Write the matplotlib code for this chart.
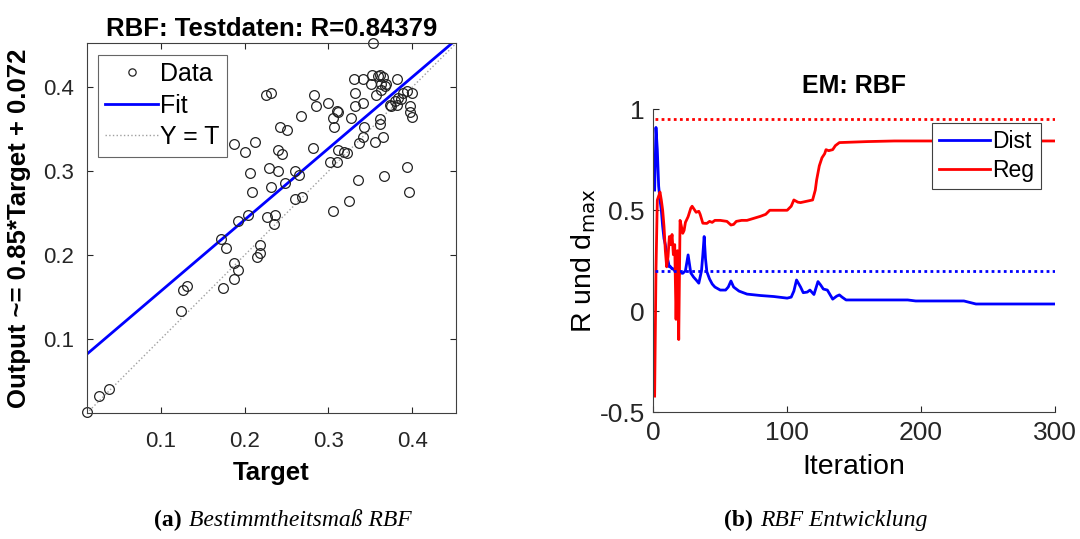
import matplotlib
matplotlib.use("Agg")
import matplotlib.pyplot as plt
import numpy as np

plt.rcParams["font.family"] = ["Liberation Sans", "DejaVu Sans"]
plt.rcParams["axes.unicode_minus"] = False

# ---- regression test data (target, network output) ----
target = [0.353, 0.226, 0.231, 0.330, 0.341, 0.352, 0.359, 0.365, 0.361, 0.351,
          0.369, 0.382, 0.283, 0.285, 0.300, 0.310, 0.311, 0.305, 0.306, 0.332,
          0.332, 0.341, 0.357, 0.363, 0.367, 0.267, 0.242, 0.250, 0.187, 0.201,
          0.212, 0.240, 0.245, 0.281, 0.206, 0.209, 0.229, 0.240, 0.231, 0.248,
          0.260, 0.265, 0.260, 0.268, 0.302, 0.310, 0.311, 0.318, 0.322, 0.327,
          0.336, 0.341, 0.342, 0.335, 0.324, 0.305, 0.361, 0.366, 0.393, 0.396,
          0.375, 0.379, 0.383, 0.389, 0.393, 0.399, 0.397, 0.397, 0.399, 0.382,
          0.373, 0.386, 0.192, 0.204, 0.227, 0.236, 0.235, 0.172, 0.178, 0.188,
          0.192, 0.187, 0.174, 0.218, 0.219, 0.215, 0.127, 0.132, 0.124, 0.039,
          0.027, 0.012, 0.361, 0.365, 0.356, 0.363]
output = [0.452, 0.390, 0.393, 0.410, 0.410, 0.414, 0.413, 0.412, 0.414, 0.404,
          0.403, 0.410, 0.391, 0.378, 0.381, 0.371, 0.370, 0.363, 0.352, 0.393,
          0.378, 0.381, 0.391, 0.396, 0.401, 0.366, 0.352, 0.349, 0.332, 0.323,
          0.335, 0.325, 0.320, 0.327, 0.298, 0.275, 0.304, 0.300, 0.281, 0.286,
          0.300, 0.295, 0.267, 0.269, 0.311, 0.311, 0.325, 0.323, 0.321, 0.363,
          0.334, 0.341, 0.352, 0.289, 0.265, 0.253, 0.362, 0.294, 0.305, 0.275,
          0.377, 0.383, 0.387, 0.393, 0.395, 0.393, 0.377, 0.370, 0.364, 0.379,
          0.379, 0.386, 0.241, 0.248, 0.246, 0.248, 0.237, 0.219, 0.208, 0.191,
          0.183, 0.172, 0.161, 0.212, 0.203, 0.198, 0.159, 0.163, 0.134, 0.041,
          0.032, 0.014, 0.356, 0.341, 0.335, 0.403]
fit_slope = 0.85
fit_offset = 0.072
r_value = 0.84379
reg_ticks = [0.1, 0.2, 0.3, 0.4]

# ---- training history ----
dist_iter = [1, 2, 3, 4, 5, 6, 7, 8, 9, 10, 11, 12, 13, 14, 15, 16, 17, 18, 19, 20,
             22, 24, 26, 28, 30, 32, 34, 36, 37, 38, 39, 40, 42, 44, 46, 50, 54, 56,
             58, 60, 64, 70, 80, 90, 100, 103, 105, 107, 110, 112, 115, 117, 120,
             123, 125, 127, 130, 134, 137, 139, 141, 144, 190, 196, 232, 241, 300]
dist_val = [0.60, 0.91, 0.80, 0.62, 0.55, 0.50, 0.42, 0.36, 0.33, 0.28, 0.25, 0.22,
            0.22, 0.21, 0.21, 0.20, 0.20, 0.20, 0.19, 0.19, 0.188, 0.20, 0.279, 0.19,
            0.17, 0.155, 0.139, 0.20, 0.28, 0.37, 0.26, 0.196, 0.16, 0.135, 0.12,
            0.105, 0.105, 0.12, 0.15, 0.12, 0.10, 0.085, 0.078, 0.073, 0.065, 0.07,
            0.10, 0.155, 0.12, 0.092, 0.095, 0.105, 0.083, 0.147, 0.13, 0.11, 0.105,
            0.06, 0.075, 0.081, 0.07, 0.056, 0.056, 0.051, 0.051, 0.036, 0.036]
reg_iter = [1, 2, 3, 4, 5, 6, 7, 8, 9, 10, 11, 12, 13, 14, 15, 16, 17, 18, 19, 20,
            21, 22, 23, 24, 26, 28, 29, 30, 32, 34, 35, 37, 40, 42, 44, 46, 50, 55,
            58, 60, 62, 66, 70, 75, 80, 84, 87, 95, 100, 103, 105, 108, 110, 119,
            121, 122, 124, 126, 128, 129, 131, 134, 136, 139, 160, 180, 300]
reg_val = [-0.42, 0.20, 0.55, 0.57, 0.59, 0.55, 0.50, 0.42, 0.30, 0.22, 0.27, 0.37,
           0.33, 0.38, 0.28, 0.33, -0.04, 0.30, -0.14, 0.45, 0.42, 0.386, 0.40, 0.44,
           0.468, 0.51, 0.52, 0.51, 0.49, 0.495, 0.48, 0.436, 0.435, 0.445, 0.44,
           0.45, 0.45, 0.445, 0.427, 0.43, 0.445, 0.45, 0.45, 0.46, 0.47, 0.48, 0.50,
           0.50, 0.50, 0.52, 0.551, 0.54, 0.538, 0.551, 0.60, 0.65, 0.72, 0.76, 0.78,
           0.80, 0.795, 0.80, 0.82, 0.835, 0.84, 0.843, 0.843]
dist_limit = 0.2
reg_limit = 0.95
hist_xticks = [0, 100, 200, 300]
hist_yticks = [-0.5, 0, 0.5, 1]

fig = plt.figure(figsize=(10.8, 5.39), dpi=100)

# ---------- (a) regression plot ----------
ax1 = fig.add_axes([0.0803, 0.2332, 0.342, 0.6865])
lo = min(min(target), min(output))
hi = max(max(target), max(output))
ax1.plot([lo, hi], [lo, hi], ls=":", color="#a0a0a0", lw=1.0, label="Y = T")
ax1.plot([lo, hi], [fit_slope * lo + fit_offset, fit_slope * hi + fit_offset],
         color="#0000ff", lw=2.0, label="Fit")
ax1.plot(target, output, ls="none", marker="o", ms=7, mfc="none",
         mec="#222222", mew=0.9, label="Data", clip_on=False)
ax1.set_xlim(lo, hi)
ax1.set_ylim(lo, hi)
ax1.set_xticks(reg_ticks)
ax1.set_yticks(reg_ticks)
ax1.tick_params(axis="both", direction="in", length=4, width=0.8, top=True,
                right=True, labelsize=16, colors="#262626")
ax1.tick_params(axis="x", pad=13)
ax1.tick_params(axis="y", pad=9)
for s in ax1.spines.values():
    s.set_color("#404040")
    s.set_linewidth(0.8)
ax1.set_title(f"RBF: Testdaten: R={r_value:.5f}", fontsize=18.5, fontweight="bold",
              pad=5)
ax1.set_xlabel("Target", fontsize=18.5, fontweight="bold", labelpad=6)
ax1.set_ylabel(f"Output ~= {fit_slope:.2f}*Target + {fit_offset:.2g}", fontsize=18.5,
               fontweight="bold", labelpad=9)
h, l = ax1.get_legend_handles_labels()
order = [2, 1, 0]
leg1 = ax1.legend([h[i] for i in order], [l[i] for i in order], loc="upper left",
                  fontsize=18, frameon=True, fancybox=False, edgecolor="#404040",
                  handlelength=2.1, handletextpad=0.1, borderpad=0.3,
                  labelspacing=0.3, borderaxespad=0.45, markerscale=0.75)
leg1.get_frame().set_linewidth(0.8)

# ---------- (b) training history ----------
ax2 = fig.add_axes([0.6049, 0.2351, 0.3719, 0.5622])
ax2.plot(dist_iter, dist_val, color="#0000ff", lw=2.0, label="Dist")
ax2.plot(reg_iter, reg_val, color="#ff0000", lw=2.0, label="Reg")
ax2.plot([1, 300], [reg_limit, reg_limit], ls=(0, (1, 1.2)), color="#ff0000", lw=2.0)
ax2.plot([1, 300], [dist_limit, dist_limit], ls=(0, (1, 1.2)), color="#0000ff", lw=2.0)
ax2.set_xlim(0, 300)
ax2.set_ylim(-0.5, 1)
ax2.set_xticks(hist_xticks)
ax2.set_yticks(hist_yticks)
ax2.set_yticklabels(["-0.5", "0", "0.5", "1"])
ax2.spines["top"].set_visible(False)
ax2.spines["right"].set_visible(False)
for s in ("left", "bottom"):
    ax2.spines[s].set_color("#404040")
    ax2.spines[s].set_linewidth(0.8)
ax2.tick_params(direction="in", length=4, width=0.8, labelsize=19, colors="#262626",
                pad=6)
ax2.set_title("EM: RBF", fontsize=18, fontweight="bold", pad=12)
ax2.set_xlabel("Iteration", fontsize=20.5, labelpad=7)
ax2.set_ylabel(r"R und d$_{\mathrm{max}}$", fontsize=20.5, labelpad=1)
leg2 = ax2.legend(loc="upper right", bbox_to_anchor=(0.965, 0.953), fontsize=16.5,
                  frameon=True, fancybox=False, framealpha=1, edgecolor="#404040",
                  handlelength=2.2, handletextpad=0.1, borderpad=0.3,
                  labelspacing=0.25, borderaxespad=0.0)
leg2.get_frame().set_linewidth(0.8)

# ---------- sub-captions ----------
cap_y = 0.024
fig.text(0.168, cap_y, "(a)", fontsize=17, family="Liberation Serif",
         fontweight="bold", ha="right", va="baseline")
fig.text(0.175, cap_y, "Bestimmtheitsmaß RBF", fontsize=17,
         family="Liberation Serif", style="italic", ha="left", va="baseline")
fig.text(0.697, cap_y, "(b)", fontsize=17, family="Liberation Serif",
         fontweight="bold", ha="right", va="baseline")
fig.text(0.704, cap_y, "RBF Entwicklung", fontsize=17,
         family="Liberation Serif", style="italic", ha="left", va="baseline")

fig.savefig("out.png", dpi=100)
